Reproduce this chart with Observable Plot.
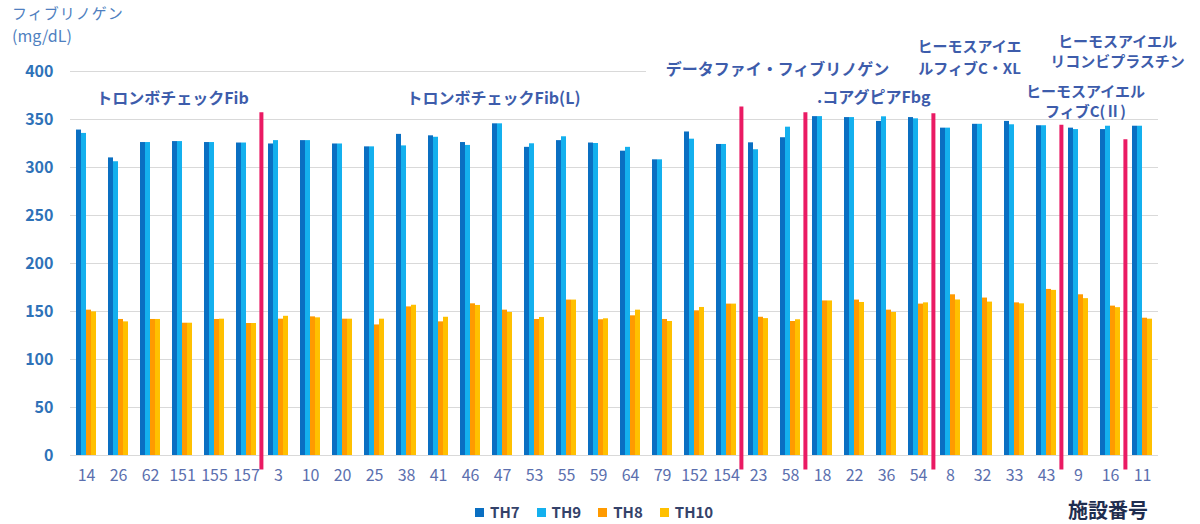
<!DOCTYPE html>
<html><head><meta charset="utf-8">
<script src="https://cdn.jsdelivr.net/npm/d3@7"></script>
<script src="https://cdn.jsdelivr.net/npm/@observablehq/plot@0.6"></script>
<style>
body{margin:0;background:#fff;font-family:"Noto Sans CJK JP","Noto Sans",sans-serif;}
#wrap{position:relative;width:1200px;height:524px;overflow:hidden;}
#chart{position:absolute;left:0;top:0;}
.ttl{position:absolute;left:12px;color:#4f7fc0;font-size:15px;line-height:18px;white-space:nowrap;}
#legend{position:absolute;top:503px;left:475px;display:flex;align-items:center;font-size:15px;line-height:18px;font-weight:bold;color:#34426a;}
#legend .it{display:flex;align-items:center;margin-right:17px;}
#legend .sw{width:9px;height:9px;margin-right:6px;}
#xlabel{position:absolute;left:1068px;top:499px;font-size:20px;line-height:22px;font-weight:bold;color:#1f2d4f;white-space:nowrap;}
</style></head>
<body><div id="wrap">
<div id="chart"></div>
<div class="ttl" style="top:4px;letter-spacing:1px">フィブリノゲン</div>
<div class="ttl" style="top:26px;font-size:16px">(mg/dL)</div>
<div id="legend"></div>
<div id="xlabel">施設番号</div>
</div>
<script>
const facilities = ["14","26","62","151","155","157","3","10","20","25","38","41","46","47","53","55","59","64","79","152","154","23","58","18","22","36","54","8","32","33","43","9","16","11"];
const series = ["TH7","TH9","TH8","TH10"];
const colors = ["#0a6fc2","#14b0ee","#ff9a00","#ffc000"];
const th7  = [339,310,326,327,326,325.5,324.5,328,324.5,321.5,334.5,333,326,345.5,321,328,325.5,317,308,337,324,325.7,331,353,352,348,352,341,345,348,343.5,341,339.5,343];
const th9  = [335.5,306,326,327,326,325.5,328,328,324.5,321.5,322.5,331.5,323,345.5,324.7,332,325,321,308,329.5,324,318.5,342,353,352,352.8,350.7,341,345,344.5,343.5,339.5,343,343];
const th8  = [151.4,141.7,141.7,137.8,141.7,137.5,142,144.4,142,136,154.8,139.2,158,151.4,141.7,161.9,141.4,145.5,141.7,150.7,157.7,144,139.6,161,161.9,151.4,157.7,167.4,164,159,173,167.4,155.6,143];
const th10 = [149.6,139.2,141.7,137.8,142,137.5,145,143.4,142,142,156.5,144,156.3,149,143.8,161.9,142.4,151.4,139.6,154.2,157.7,142.6,141.4,161,159.4,149,159,162,159.8,158,172,163.4,154,142];
const yTicks = [0,50,100,150,200,250,300,350,400];
// group separators (red lines), after these facilities
const sepAfter = ["157","154","58","54","43","16"];
const sepTop = [357,363,357,356,344,329];
// reagent annotations
const annoText = ["トロンボチェックFib","トロンボチェックFib(L)","データファイ・フィブリノゲン",".コアグピアFbg","ヒーモスアイエ\nルフィブC・XL","ヒーモスアイエル\nフィブC(Ⅱ)","ヒーモスアイエル\nリコンビプラスチン"];
const annoAt = ["151","47","58","36","32","9","16"];
const annoY = [371,371,401.5,373,416,369.6,422];
const annoDx = [-10,-9,-13,-12.7,-13,7,7];
const annoSize = [16,16,16,16,15,15,15];
const annoLH = [1,1,1,1,1.47,1.33,1.38];

const all = [th7,th9,th8,th10];
const rows = facilities.flatMap((f,i)=>series.map((s,j)=>({facility:f, series:s, value:all[j][i]})));
const gridRows = facilities.flatMap((f,i)=>yTicks.filter(t=>t<400 || i<18).map(t=>({facility:f, t})));
const seps = sepAfter.map((f,i)=>({facility:f, top:sepTop[i]}));
const annos = annoText.map((t,i)=>({text:t, facility:annoAt[i], y:annoY[i], dx:annoDx[i], size:annoSize[i], lh:annoLH[i]}));

const marks = [
  Plot.ruleY(gridRows, {fx:"facility", y:"t", stroke:"#d9d9d9", strokeWidth:1}),
  Plot.barY(rows, {fx:"facility", x:"series", y:"value", fill:"series"}),
  Plot.axisY({ticks:yTicks, tickSize:0, tickPadding:17, fontSize:16, fontWeight:"bold", fill:"#2e72b8", label:null}),
  Plot.axisFx({anchor:"bottom", tickSize:0, tickPadding:14, fontSize:16, fill:"#5b6fae", label:null}),
  Plot.ruleX(seps, {fx:"facility", x:()=>"TH10", y1:"top", y2:-15, dx:7.4, stroke:"#ea1a63", strokeWidth:4})
];
annos.forEach(a=>{
  marks.push(Plot.text([a], {fx:"facility", y:"y", text:"text", dx:a.dx, fontSize:a.size, lineHeight:a.lh, fontWeight:"bold", fill:"#3d5cab", lineAnchor:"middle"}));
});

const chart = Plot.plot({
  width:1200, height:490, marginTop:71, marginBottom:35, marginLeft:63, marginRight:35,
  style:{fontFamily:'"Noto Sans CJK JP","Noto Sans",sans-serif', background:"transparent", overflow:"visible"},
  fx:{domain:facilities, padding:0, label:null},
  x:{domain:series, paddingInner:0, paddingOuter:0.78, axis:null},
  y:{domain:[0,400], axis:null},
  color:{domain:series, range:colors},
  marks
});
document.getElementById("chart").appendChild(chart);

const lg = document.getElementById("legend");
series.forEach((s,i)=>{
  const it = document.createElement("div"); it.className="it";
  const sw = document.createElement("div"); sw.className="sw"; sw.style.background=colors[i];
  const tx = document.createElement("span"); tx.textContent=s;
  it.appendChild(sw); it.appendChild(tx); lg.appendChild(it);
});
</script>
</body></html>
